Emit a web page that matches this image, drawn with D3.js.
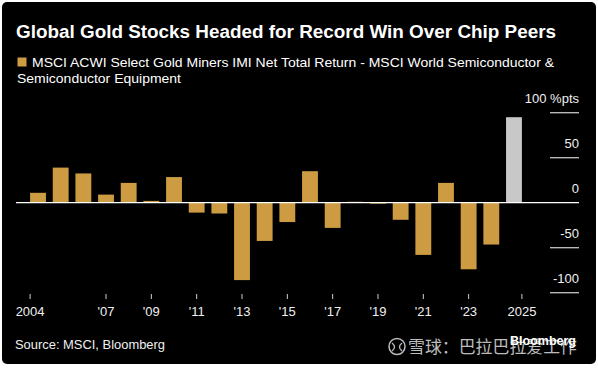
<!DOCTYPE html>
<html>
<head>
<meta charset="utf-8">
<script src="https://cdn.jsdelivr.net/npm/d3@7"></script>
<style>
  html, body { margin: 0; padding: 0; background: #fff; }
  svg { display: block; }
</style>
</head>
<body>
<svg id="chart" width="598" height="368"></svg>
<script>
// ---- Data ----
const years = [2004,2005,2006,2007,2008,2009,2010,2011,2012,2013,2014,2015,2016,2017,2018,2019,2020,2021,2022,2023,2024,2025];
const values = [11,39,32.5,9,22,2,28.5,-11,-12,-86,-42.5,-21.5,35,-28,1,-1,-19,-58,22,-74,-46.5,95];
const highlightYear = 2025;
const tickYears = [2004,2007,2009,2011,2013,2015,2017,2019,2021,2023,2025];
const tickLabels = ["2004","'07","'09","'11","'13","'15","'17","'19","'21","'23","2025"];
const yTicks = [-100,-50,0,50,100];
const yTickLabels = ["-100","-50","0","50","100 %pts"];
const title = "Global Gold Stocks Headed for Record Win Over Chip Peers";
const legendLine1 = "MSCI ACWI Select Gold Miners IMI Net Total Return - MSCI World Semiconductor &";
const legendLine2 = "Semiconductor Equipment";
const sourceText = "Source: MSCI, Bloomberg";

const GOLD = "#cc9b42";
const GRAY = "#c8c8c8";
const FONT = "'Liberation Sans', Arial, sans-serif";

const svg = d3.select("#chart");

// background card
svg.append("rect").attr("x", 2).attr("y", 2).attr("width", 594).attr("height", 362)
  .attr("rx", 5).attr("fill", "#000");

// ---- Scales ----
const x = d3.scaleBand().domain(years).range([26.7, 525.3]).paddingInner(0.3).paddingOuter(0.15);
const y = d3.scaleLinear().domain([-100, 100]).range([292.7, 112.7]);

// ---- Title & legend ----
svg.append("text").attr("x", 16).attr("y", 38)
  .attr("font-family", FONT).attr("font-weight", "bold").attr("font-size", 17.5)
  .attr("fill", "#fff").attr("textLength", 540).attr("lengthAdjust", "spacingAndGlyphs")
  .text(title);

svg.append("rect").attr("x", 17.5).attr("y", 57.5).attr("width", 9).attr("height", 9).attr("fill", GOLD);
svg.append("text").attr("x", 32).attr("y", 66.5)
  .attr("font-family", FONT).attr("font-size", 12.8).attr("fill", "#fff")
  .attr("textLength", 522).attr("lengthAdjust", "spacingAndGlyphs")
  .text(legendLine1);
svg.append("text").attr("x", 17).attr("y", 82.5)
  .attr("font-family", FONT).attr("font-size", 12.8).attr("fill", "#fff")
  .attr("textLength", 164).attr("lengthAdjust", "spacingAndGlyphs")
  .text(legendLine2);

// ---- Y gridlines & labels ----
const gx0 = 550, gx1 = 579;
svg.append("g").selectAll("line").data(yTicks.filter(d => d !== 0)).join("line")
  .attr("x1", gx0).attr("x2", gx1)
  .attr("y1", d => y(d)).attr("y2", d => y(d))
  .attr("stroke", "#c4c4c4").attr("stroke-width", 1.3);

svg.append("g").selectAll("text").data(yTicks).join("text")
  .attr("x", gx1).attr("y", d => y(d) - 9.3)
  .attr("text-anchor", "end")
  .attr("font-family", FONT).attr("font-size", 13).attr("fill", "#f0f0f0")
  .text((d, i) => yTickLabels[i]);

// ---- Bars ----
svg.append("g").selectAll("rect").data(years).join("rect")
  .attr("x", d => x(d))
  .attr("width", x.bandwidth())
  .attr("y", (d, i) => y(Math.max(0, values[i])))
  .attr("height", (d, i) => Math.abs(y(values[i]) - y(0)))
  .attr("fill", d => d === highlightYear ? GRAY : GOLD);

// zero line
svg.append("line").attr("x1", 16).attr("x2", gx1).attr("y1", y(0)).attr("y2", y(0))
  .attr("stroke", "#fff").attr("stroke-width", 1.3);

// ---- X ticks & labels ----
const tickPos = d => d === years[0] ? x(d) : d === years[years.length - 1] ? x(d) + x.bandwidth() : x(d) + x.bandwidth() / 2;
const xt = svg.append("g");
xt.selectAll("line").data(tickYears).join("line")
  .attr("x1", tickPos).attr("x2", tickPos)
  .attr("y1", 294).attr("y2", 299)
  .attr("stroke", "#cfcfcf").attr("stroke-width", 1);
xt.selectAll("text").data(tickYears).join("text")
  .attr("x", tickPos).attr("y", 316)
  .attr("text-anchor", "middle")
  .attr("font-family", FONT).attr("font-size", 13).attr("fill", "#f0f0f0")
  .text((d, i) => tickLabels[i]);

// ---- Footer ----
svg.append("text").attr("x", 15).attr("y", 349)
  .attr("font-family", FONT).attr("font-size", 12).attr("fill", "#f0f0f0")
  .attr("textLength", 150).attr("lengthAdjust", "spacingAndGlyphs")
  .text(sourceText);

// watermark overlay
const wm = svg.append("g").attr("opacity", 0.85);
wm.append("circle").attr("cx", 397).attr("cy", 346.5).attr("r", 8)
  .attr("fill", "none").attr("stroke", "#ddd").attr("stroke-width", 1.5);
wm.append("path").attr("d", "M392,343 q5,4 0,8 M402,343 q-5,4 0,8")
  .attr("fill", "none").attr("stroke", "#ddd").attr("stroke-width", 1.3);
wm.append("text").attr("x", 408).attr("y", 353)
  .attr("font-family", "'Noto Sans CJK SC', sans-serif").attr("font-size", 17).attr("fill", "#ddd")
  .attr("textLength", 169).attr("lengthAdjust", "spacingAndGlyphs")
  .text("雪球：巴拉巴拉爱工作");

svg.append("text").attr("x", 510).attr("y", 345)
  .attr("font-family", FONT).attr("font-weight", "bold").attr("font-size", 12).attr("fill", "#fff")
  .attr("textLength", 66).attr("lengthAdjust", "spacingAndGlyphs")
  .text("Bloomberg");
</script>
</body>
</html>
